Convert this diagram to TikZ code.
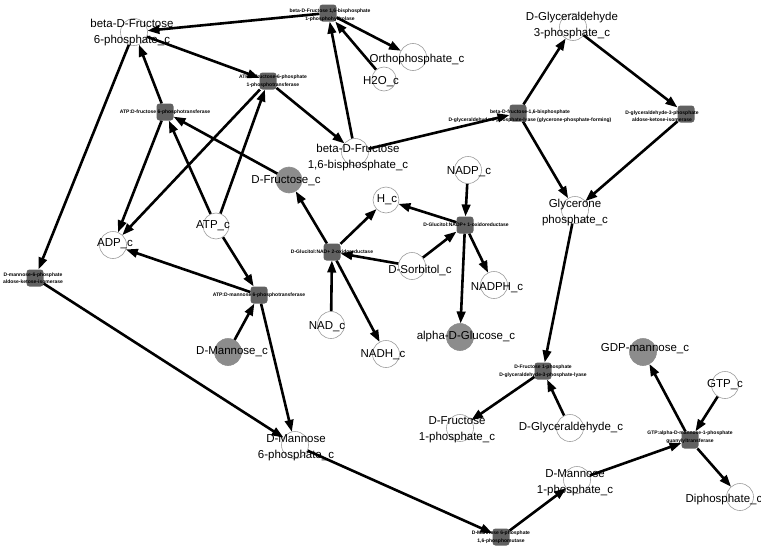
\documentclass[tikz,border=0pt]{standalone}
\usepackage{fontspec}
\setmainfont{Liberation Sans}
\definecolor{rxn}{gray}{0.38}
\definecolor{filled}{gray}{0.55}
\definecolor{rim}{gray}{0.62}
\usetikzlibrary{arrows.meta}
\usetikzlibrary{backgrounds}
\tikzstyle{base}=[x=1pt, y=-1pt, inner sep=0pt, outer sep=0pt]
\tikzstyle{met}=[circle, draw=rim, line width=0.6pt, fill=white, minimum size=27pt]
\tikzstyle{metg}=[met, draw=filled, fill=filled]
\tikzstyle{rxnbox}=[rectangle, rounded corners=3pt, fill=rxn, minimum size=17pt]
\tikzstyle{metlabel}=[align=center, font=\fontsize{11.5}{16}\selectfont]
\tikzstyle{rxnlabel}=[align=center, font=\fontsize{5}{7.5}\selectfont\bfseries]
\tikzstyle{flux}=[line width=2.6pt, -{Triangle[length=12pt,width=8.5pt]}]

\begin{document}
\begin{tikzpicture}[base]
    \useasboundingbox (0,0) rectangle (761,546);
        \node [met] (f6p) at (134,32) {};
        \node [met] (ortho) at (413,57) {};
        \node [met, minimum size=24pt] (h2o) at (384,79) {};
        \node [met] (f16bp) at (355,152) {};
        \node [metg, minimum size=26pt] (fru) at (289,180) {};
        \node [met, minimum size=26pt] (atp) at (216,226) {};
        \node [met] (adp) at (113,245) {};
        \node [metg] (man) at (228,352) {};
        \node [met] (m6p) at (295,445) {};
        \node [met, minimum size=26pt] (h) at (386,200) {};
        \node [met] (nadp) at (468,170) {};
        \node [met] (nadph) at (494,285) {};
        \node [met] (sorb) at (412,266) {};
        \node [metg] (glc) at (460,337) {};
        \node [met] (nad) at (331,325) {};
        \node [met] (nadh) at (386,354) {};
        \node [met] (g3p) at (573,27) {};
        \node [met] (gly) at (575,210) {};
        \node [met] (f1p) at (460,428) {};
        \node [met] (glyc) at (570,428) {};
        \node [metg] (gdpm) at (643,352) {};
        \node [met] (gtp) at (725,385) {};
        \node [met] (diph) at (740,497) {};
        \node [met] (m1p) at (577,480) {};
        \node [rxnbox] (r1) at (328,13) {};
        \node [rxnbox] (r2) at (165,112) {};
        \node [rxnbox] (r3) at (268,81) {};
        \node [rxnbox] (r4) at (35,278) {};
        \node [rxnbox] (r5) at (259,295) {};
        \node [rxnbox] (r6) at (332,252) {};
        \node [rxnbox] (r7) at (465,225) {};
        \node [rxnbox] (r8) at (518,113) {};
        \node [rxnbox] (r9) at (686,114) {};
        \node [rxnbox] (r10) at (543,371) {};
        \node [rxnbox] (r11) at (690,440) {};
        \node [rxnbox] (r12) at (501,537) {};
    \begin{scope}[on background layer]
        \draw [flux] (r1) -- (f6p);
        \draw [flux] (r1) -- (ortho);
        \draw [flux] (f16bp) -- (r1);
        \draw [flux] (h2o) -- (r1);
        \draw [flux] (f6p) -- (r3);
        \draw [flux] (r3) -- (f16bp);
        \draw [flux] (atp) -- (r3);
        \draw [flux] (r3) -- (adp);
        \draw [flux] (fru) -- (r2);
        \draw [flux] (atp) -- (r2);
        \draw [flux] (r2) -- (f6p);
        \draw [flux] (r2) -- (adp);
        \draw [flux] (f6p) -- (r4);
        \draw [flux] (r4) -- (m6p);
        \draw [flux] (atp) -- (r5);
        \draw [flux] (man) -- (r5);
        \draw [flux] (r5) -- (adp);
        \draw [flux] (r5) -- (m6p);
        \draw [flux] (sorb) -- (r6);
        \draw [flux] (nad) -- (r6);
        \draw [flux] (r6) -- (fru);
        \draw [flux] (r6) -- (h);
        \draw [flux] (r6) -- (nadh);
        \draw [flux] (sorb) -- (r7);
        \draw [flux] (nadp) -- (r7);
        \draw [flux] (r7) -- (h);
        \draw [flux] (r7) -- (nadph);
        \draw [flux] (r7) -- (glc);
        \draw [flux] (f16bp) -- (r8);
        \draw [flux] (r8) -- (g3p);
        \draw [flux] (r8) -- (gly);
        \draw [flux] (g3p) -- (r9);
        \draw [flux] (r9) -- (gly);
        \draw [flux] (gly) -- (r10);
        \draw [flux] (glyc) -- (r10);
        \draw [flux] (r10) -- (f1p);
        \draw [flux] (m6p) -- (r12);
        \draw [flux] (r12) -- (m1p);
        \draw [flux] (m1p) -- (r11);
        \draw [flux] (gtp) -- (r11);
        \draw [flux] (r11) -- (gdpm);
        \draw [flux] (r11) -- (diph);
    \end{scope}
        \node [metlabel] (f6p-l) at (132,33) {beta-D-Fructose\\6-phosphate\_c};
        \node [metlabel] (ortho-l) at (417,60) {Orthophosphate\_c};
        \node [metlabel] (h2o-l) at (381,82) {H2O\_c};
        \node [metlabel] (f16bp-l) at (358,158) {beta-D-Fructose\\1,6-bisphosphate\_c};
        \node [metlabel] (fru-l) at (286,181) {D-Fructose\_c};
        \node [metlabel] (atp-l) at (213,226) {ATP\_c};
        \node [metlabel] (adp-l) at (115,244) {ADP\_c};
        \node [metlabel] (man-l) at (232,352) {D-Mannose\_c};
        \node [metlabel] (m6p-l) at (296,448) {D-Mannose\\6-phosphate\_c};
        \node [metlabel] (h-l) at (387,200) {H\_c};
        \node [metlabel] (nadp-l) at (469,172) {NADP\_c};
        \node [metlabel] (nadph-l) at (497,288) {NADPH\_c};
        \node [metlabel] (sorb-l) at (420,270) {D-Sorbitol\_c};
        \node [metlabel] (glc-l) at (466,337) {alpha-D-Glucose\_c};
        \node [metlabel] (nad-l) at (327,327) {NAD\_c};
        \node [metlabel] (nadh-l) at (383,355) {NADH\_c};
        \node [metlabel] (g3p-l) at (572,26) {D-Glyceraldehyde\\3-phosphate\_c};
        \node [metlabel] (gly-l) at (575,213) {Glycerone\\phosphate\_c};
        \node [metlabel] (f1p-l) at (457,430) {D-Fructose\\1-phosphate\_c};
        \node [metlabel] (glyc-l) at (571,428) {D-Glyceraldehyde\_c};
        \node [metlabel] (gdpm-l) at (645,349) {GDP-mannose\_c};
        \node [metlabel] (gtp-l) at (725,385) {GTP\_c};
        \node [metlabel] (diph-l) at (724,500) {Diphosphate\_c};
        \node [metlabel] (m1p-l) at (575,483) {D-Mannose\\1-phosphate\_c};
        \node [rxnlabel] (r1-l) at (330,15) {beta-D-Fructose 1,6-bisphosphate\\1-phosphohydrolase};
        \node [rxnlabel] (r2-l) at (165,112) {ATP:D-fructose 6-phosphotransferase};
        \node [rxnlabel] (r3-l) at (273,81) {ATP:D-fructose-6-phosphate\\1-phosphotransferase};
        \node [rxnlabel] (r4-l) at (33,278) {D-mannose-6-phosphate\\aldose-ketose-isomerase};
        \node [rxnlabel] (r5-l) at (259,295) {ATP:D-mannose 6-phosphotransferase};
        \node [rxnlabel] (r6-l) at (332,252) {D-Glucitol:NAD+ 2-oxidoreductase};
        \node [rxnlabel] (r7-l) at (466,225) {D-Glucitol:NADP+ 1-oxidoreductase};
        \node [rxnlabel] (r8-l) at (530,116) {beta-D-fructose-1,6-bisphosphate\\D-glyceraldehyde-3-phosphate-lyase (glycerone-phosphate-forming)};
        \node [rxnlabel] (r9-l) at (662,116) {D-glyceraldehyde-3-phosphate\\aldose-ketose-isomerase};
        \node [rxnlabel] (r10-l) at (543,371) {D-Fructose 1-phosphate\\D-glyceraldehyde-3-phosphate-lyase};
        \node [rxnlabel] (r11-l) at (690,437) {GTP:alpha-D-mannose-1-phosphate\\guanylyltransferase};
        \node [rxnlabel] (r12-l) at (501,537) {D-Mannose 6-phosphate\\1,6-phosphomutase};
    \end{tikzpicture}
\end{document}
